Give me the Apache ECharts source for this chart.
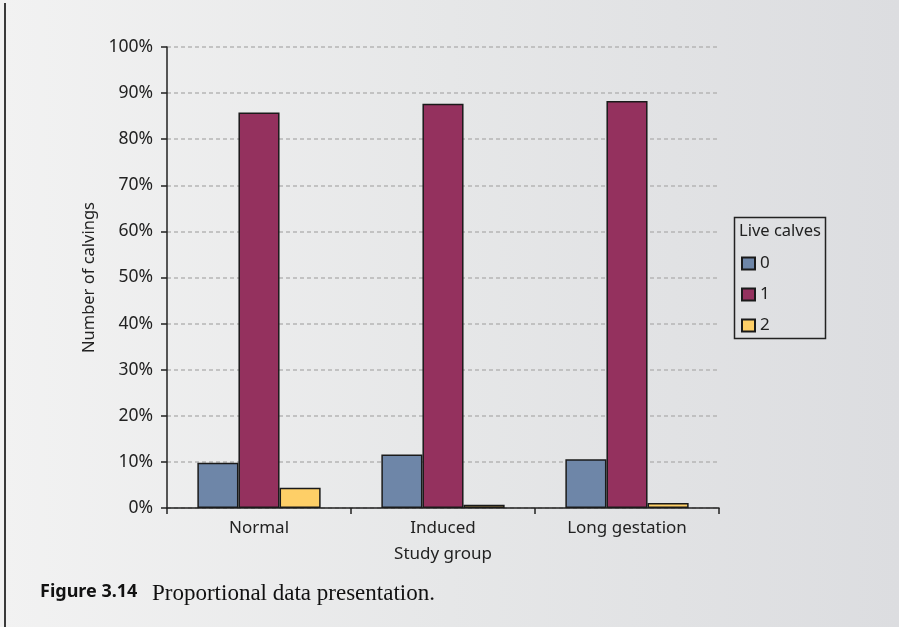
<!DOCTYPE html>
<html>
<head>
<meta charset="utf-8">
<script src="https://cdn.jsdelivr.net/npm/echarts@6/dist/echarts.min.js"></script>
<style>
  html, body { margin: 0; padding: 0; }
  body {
    width: 899px; height: 627px; overflow: hidden;
    background: linear-gradient(to right, #f2f2f2 0%, #e6e7e8 50%, #dcdde0 100%);
  }
  #chart { position: absolute; left: 0; top: 0; width: 899px; height: 627px; }
</style>
</head>
<body>
<div id="chart"></div>
<script>
// Study groups along the x axis
const groups = ['Normal', 'Induced', 'Long gestation'];
// Share of calvings (%) by number of live calves
const liveCalves0 = [9.8, 11.6, 10.6];
const liveCalves1 = [85.8, 87.7, 88.3];
const liveCalves2 = [4.4, 0.7, 1.1];
const seriesNames = ['0', '1', '2'];
const yTicks = [0, 10, 20, 30, 40, 50, 60, 70, 80, 90, 100];

const colors = ['#6e86a8', '#94315e', '#fecf67'];
const sans = '"Noto Sans", "Open Sans", sans-serif';

const chart = echarts.init(document.getElementById('chart'), null, { renderer: 'canvas' });

const barData = [liveCalves0, liveCalves1, liveCalves2];

chart.setOption({
  animation: false,
  textStyle: { fontFamily: sans },
  grid: { left: 167, right: 180, top: 47, bottom: 119, containLabel: false },
  xAxis: {
    type: 'category',
    data: groups,
    name: 'Study group',
    nameLocation: 'middle',
    nameGap: 38,
    nameTextStyle: { color: '#222', fontSize: 17, fontFamily: sans },
    axisLine: { lineStyle: { color: '#222', width: 1.5 } },
    axisTick: { show: true, length: 6, alignWithLabel: false, lineStyle: { color: '#222', width: 1.5 } },
    axisLabel: { color: '#222', fontSize: 17, margin: 12, fontFamily: sans }
  },
  yAxis: {
    type: 'value',
    min: yTicks[0],
    max: yTicks[yTicks.length - 1],
    interval: 10,
    name: 'Number of calvings',
    nameLocation: 'middle',
    nameGap: 66,
    nameTextStyle: { color: '#222', fontSize: 16.5, fontFamily: sans },
    axisLine: { show: true, lineStyle: { color: '#222', width: 1.5 } },
    axisTick: { show: true, length: 6, inside: false, lineStyle: { color: '#222', width: 1.5 } },
    axisLabel: { color: '#222', fontSize: 17.5, margin: 14, fontFamily: sans, formatter: v => v + '%' },
    splitLine: { show: true, lineStyle: { color: '#b5b5b5', type: [4, 3], width: 1.5 } }
  },
  legend: {
    orient: 'vertical',
    left: 736,
    top: 250,
    itemWidth: 13,
    itemHeight: 12,
    itemGap: 14,
    icon: 'rect',
    textStyle: { color: '#222', fontSize: 17, lineHeight: 17, fontFamily: sans },
    data: seriesNames
  },
  graphic: [
    // left frame rule
    { type: 'rect', shape: { x: 4, y: 3, width: 2, height: 624 }, style: { fill: '#3a3a3a' }, silent: true },
    // legend box
    { type: 'rect', shape: { x: 734.5, y: 217.5, width: 91, height: 121 },
      style: { fill: 'transparent', stroke: '#222', lineWidth: 1.5 }, silent: true },
    { type: 'text', left: 739, top: 223,
      style: { text: 'Live calves', fill: '#222', font: '16.5px ' + sans } },
    // caption
    { type: 'text', left: 40, top: 583,
      style: { text: 'Figure 3.14', fill: '#111', font: 'bold 18px ' + sans } },
    { type: 'text', left: 152, top: 582,
      style: { text: 'Proportional data presentation.', fill: '#111', font: '23px "Liberation Serif", "DejaVu Serif", serif' } }
  ],
  series: seriesNames.map((n, i) => ({
    name: n,
    type: 'bar',
    data: barData[i],
    barGap: '0%',
    barCategoryGap: '33%',
    itemStyle: { color: colors[i], borderColor: '#1a1a1a', borderWidth: 1.5 }
  }))
});
</script>
</body>
</html>
